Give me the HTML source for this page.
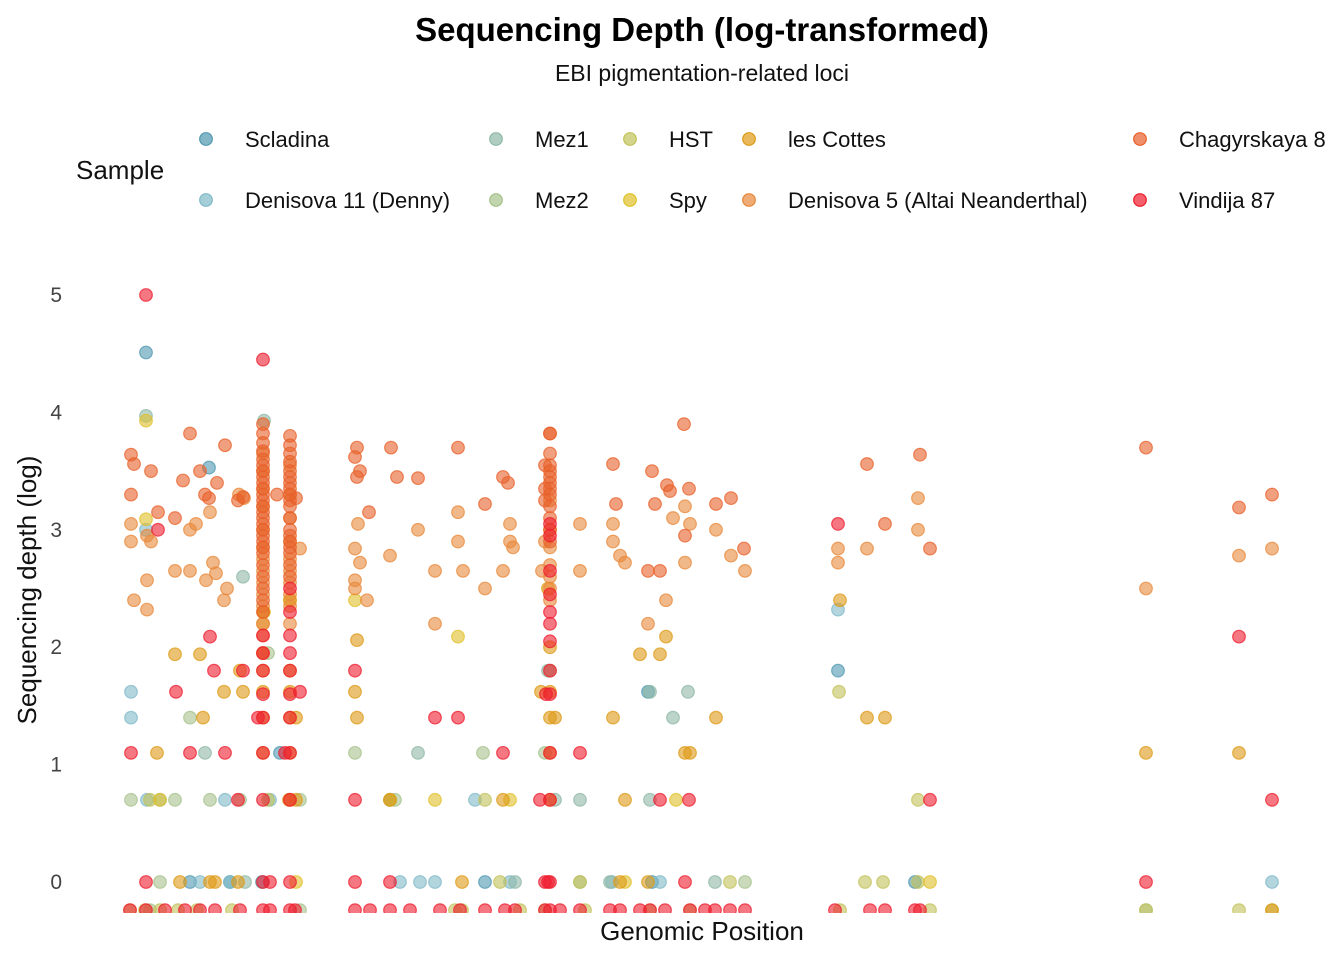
<!DOCTYPE html>
<html><head><meta charset="utf-8"><style>
html,body{margin:0;padding:0;background:#fff;}
body{width:1344px;height:960px;overflow:hidden;font-family:"Liberation Sans",sans-serif;}
</style></head><body>
<svg id="chart" width="1344" height="960" xmlns="http://www.w3.org/2000/svg" font-family="Liberation Sans, sans-serif">
<text x="702" y="41" font-size="33" font-weight="bold" text-anchor="middle" fill="#000">Sequencing Depth (log-transformed)</text>
<text x="702" y="81" font-size="23" text-anchor="middle" fill="#111">EBI pigmentation-related loci</text>
<text x="76" y="179" font-size="26" fill="#111">Sample</text>
<g id="legend"></g>
<text x="702" y="940" font-size="26" text-anchor="middle" fill="#111">Genomic Position</text>
<text transform="translate(36,590) rotate(-90)" font-size="26" text-anchor="middle" fill="#111">Sequencing depth (log)</text>
<g id="yticks"></g>
<defs><clipPath id="plotclip"><rect x="100" y="250" width="1244" height="663"/></clipPath></defs>
<g id="points" clip-path="url(#plotclip)"></g>
</svg>
<script>
const yTicks=[0,1,2,3,4,5];
const sampleNames=["Scladina","Denisova 11 (Denny)","Mez1","Mez2","HST","Spy","les Cottes","Denisova 5 (Altai Neanderthal)","Chagyrskaya 8","Vindija 87"];
const sampleColors=["#4f98b0","#7fb9c8","#8fb8a6","#a6c28c","#c2c25a","#e0c02a","#de9a16","#e8883a","#e8602a","#ee1c2e"];
const scladina=[[146,4.51],[209,3.53],[838,1.8],[648,1.62],[485,0],[280,1.1],[915,0],[390,0.7],[190,0],[230,0],[262,0],[652,0]];
const denisova11=[[131,1.62],[131,1.4],[146,3.0],[838,2.32],[1272,0],[400,0],[420,0],[435,0],[510,0],[660,0],[200,0],[230,0],[270,0.7],[147,0.7],[225,0.7],[475,0.7],[612,0]];
const mez1=[[264,3.93],[146,3.97],[243,2.6],[650,1.62],[688,1.62],[673,1.4],[418,1.1],[205,1.1],[580,0.7],[650,0.7],[715,0],[610,0],[245,0],[515,0],[555,0.7],[548,1.8],[160,0.7]];
const mez2=[[131,0.7],[175,0.7],[160,0],[210,0.7],[300,0.7],[545,1.1],[550,1.8],[355,1.1],[395,0.7],[483,1.1],[190,1.4],[745,0],[1146,-0.24],[268,1.95],[580,0],[150,-0.24],[300,-0.24],[240,0.7]];
const hst=[[150,0.7],[268,0.7],[580,0],[730,0],[883,0],[865,0],[1146,-0.24],[1239,-0.24],[485,0.7],[500,0],[918,0],[839,1.62],[918,0.7],[130,-0.24],[462,-0.24],[145,-0.24],[178,-0.24],[232,-0.24],[455,-0.24],[520,-0.24],[545,-0.24],[585,-0.24],[650,-0.24],[690,-0.24],[840,-0.24],[930,-0.24],[1272,-0.24],[160,-0.24],[197,-0.24]];
const spy=[[146,3.93],[146,3.09],[435,0.7],[458,2.09],[676,0.7],[625,0],[930,0],[296,0],[160,0.7],[355,2.4],[390,0.7],[510,0.7],[264,2.3],[290,2.4]];
const lesCottes=[[175,1.94],[200,1.94],[224,1.62],[243,1.62],[240,1.8],[296,1.4],[357,1.4],[390,0.7],[462,0],[503,0.7],[541,1.62],[555,1.4],[613,1.4],[625,0.7],[648,0],[640,1.94],[666,2.09],[660,1.94],[685,1.1],[690,1.1],[716,1.4],[840,2.4],[867,1.4],[885,1.4],[1146,1.1],[1239,1.1],[157,1.1],[203,1.4],[180,0],[210,0],[238,0],[289,0.7],[296,0.7],[357,2.06],[355,1.62],[263,2.3],[263,2.2],[263,1.95],[263,1.8],[263,1.62],[263,1.4],[263,1.1],[290,2.4],[290,1.8],[290,1.62],[290,1.4],[290,1.1],[290,0.7],[550,2.0],[550,1.62],[550,1.4],[550,1.1],[550,0.7],[548,2.5],[215,0],[620,0],[1272,-0.24]];
const denisova5=[[131,3.05],[131,2.9],[134,2.4],[147,2.32],[147,2.57],[147,2.95],[151,2.9],[175,2.65],[190,3.0],[190,2.65],[196,3.05],[206,2.57],[213,2.72],[216,2.63],[224,2.4],[227,2.5],[239,3.3],[210,3.15],[244,3.27],[390,2.78],[418,3.0],[435,2.65],[435,2.2],[458,3.15],[458,2.9],[463,2.65],[485,2.5],[503,2.65],[510,3.05],[510,2.9],[513,2.85],[580,3.05],[580,2.65],[613,3.05],[613,2.9],[620,2.78],[625,2.72],[648,2.2],[666,2.4],[673,3.1],[685,3.2],[685,2.72],[690,3.05],[716,3.0],[731,2.78],[745,2.65],[838,2.72],[838,2.84],[867,2.84],[918,3.27],[918,3.0],[1146,2.5],[1239,2.78],[1272,2.84],[355,2.84],[355,2.57],[355,2.5],[358,3.05],[360,2.72],[367,2.4],[300,2.84],
[263,3.65],[263,3.5],[263,3.35],[263,3.2],[263,3.0],[263,2.85],[263,2.75],[263,2.65],[263,2.55],[263,2.45],[263,2.35],[263,2.2],[263,2.1],[263,1.95],
[290,3.55],[290,3.3],[290,3.1],[290,2.9],[290,2.75],[290,2.65],[290,2.55],[290,2.45],[290,2.35],[290,2.2],
[550,3.25],[550,3.0],[550,2.85],[550,2.7],[550,2.6],[550,2.5],[550,2.4],[545,2.9],[542,2.65]];
const chagyrskaya=[[131,3.64],[131,3.3],[134,3.56],[151,3.5],[158,3.15],[190,3.82],[183,3.42],[200,3.5],[205,3.3],[209,3.27],[217,3.4],[225,3.72],[238,3.25],[243,3.28],[277,3.3],[296,3.27],[357,3.7],[355,3.62],[357,3.45],[360,3.5],[369,3.15],[391,3.7],[397,3.45],[418,3.44],[458,3.7],[485,3.22],[503,3.45],[508,3.4],[550,3.82],[545,3.55],[613,3.56],[616,3.22],[652,3.5],[655,3.22],[667,3.38],[670,3.33],[684,3.9],[689,3.35],[716,3.22],[731,3.27],[744,2.84],[685,2.95],[867,3.56],[885,3.05],[920,3.64],[930,2.84],[1146,3.7],[1239,3.19],[1272,3.3],[660,2.65],[648,2.65],[175,3.1],
[263,3.9],[263,3.82],[263,3.74],[263,3.67],[263,3.6],[263,3.55],[263,3.5],[263,3.45],[263,3.4],[263,3.35],[263,3.3],[263,3.25],[263,3.2],[263,3.15],[263,3.1],[263,3.05],[263,3.0],[263,2.95],[263,2.9],[263,2.85],[263,2.8],[263,2.7],[263,2.6],[263,2.5],[263,2.4],[263,2.3],
[290,3.8],[290,3.72],[290,3.65],[290,3.58],[290,3.5],[290,3.45],[290,3.4],[290,3.35],[290,3.3],[290,3.25],[290,3.2],[290,3.1],[290,3.0],[290,2.95],[290,2.9],[290,2.85],[290,2.8],[290,2.7],[290,2.6],
[550,3.82],[550,3.65],[550,3.55],[550,3.5],[550,3.45],[550,3.4],[550,3.35],[550,3.3],[550,3.2],[550,3.1],[550,3.0],[550,2.9],[545,3.35],[545,3.25]];
const vindija=[[146,5.0],[263,4.45],[158,3.0],[210,2.09],[214,1.8],[176,1.62],[131,1.1],[190,1.1],[225,1.1],[238,0.7],[243,1.8],[355,1.8],[435,1.4],[458,1.4],[503,1.1],[580,1.1],[660,0.7],[689,0.7],[838,3.05],[930,0.7],[1146,0],[1239,2.09],[1272,0.7],[146,0],[355,0],[390,0],[548,0],[685,0],[355,0.7],[540,0.7],[300,1.62],
[263,2.1],[263,1.95],[263,1.8],[263,1.6],[263,1.4],[263,1.1],[263,0.7],[263,0],[258,1.4],[270,0],
[290,2.5],[290,2.3],[290,2.1],[290,1.95],[290,1.8],[290,1.6],[290,1.4],[290,1.1],[290,0.7],[290,0],[285,1.1],
[550,3.05],[550,2.95],[550,2.65],[550,2.45],[550,2.3],[550,2.2],[550,2.05],[550,1.8],[550,1.6],[550,1.1],[550,0.7],[550,0],[546,1.6],[545,0],
[130,-0.24],[146,-0.24],[165,-0.24],[185,-0.24],[200,-0.24],[215,-0.24],[240,-0.24],[263,-0.24],[270,-0.24],[290,-0.24],[295,-0.24],[355,-0.24],[370,-0.24],[390,-0.24],[410,-0.24],[440,-0.24],[460,-0.24],[485,-0.24],[505,-0.24],[515,-0.24],[545,-0.24],[550,-0.24],[560,-0.24],[580,-0.24],[610,-0.24],[620,-0.24],[640,-0.24],[650,-0.24],[665,-0.24],[690,-0.24],[705,-0.24],[715,-0.24],[730,-0.24],[745,-0.24],[835,-0.24],[870,-0.24],[885,-0.24],[915,-0.24],[920,-0.24]];
const series=[scladina,denisova11,mez1,mez2,hst,spy,lesCottes,denisova5,chagyrskaya,vindija];

const NS="http://www.w3.org/2000/svg";
function xScale(v){return 125+(v-125)*1.0;}
function yScale(v){return 882-v*117.4;}
const svg=document.getElementById('chart');
const yg=document.getElementById('yticks');
yTicks.forEach(t=>{
  const tx=document.createElementNS(NS,'text');
  
  
  tx.setAttribute('x',62);tx.setAttribute('y',yScale(t)+7);
  tx.setAttribute('font-size','21');tx.setAttribute('text-anchor','end');tx.setAttribute('fill','#444');
  tx.textContent=t;yg.appendChild(tx);
});
const pg=document.getElementById('points');
series.forEach((s,i)=>{
  const g=document.createElementNS(NS,'g');
  
  
  s.forEach(p=>{
    const c=document.createElementNS(NS,'circle');
    
    
    c.setAttribute('cx',xScale(p[0]));c.setAttribute('cy',yScale(p[1]));c.setAttribute('r',6.3);
    c.setAttribute('fill',sampleColors[i]);c.setAttribute('fill-opacity','0.6');
    c.setAttribute('stroke',sampleColors[i]);c.setAttribute('stroke-opacity','0.75');c.setAttribute('stroke-width','1.2');
    g.appendChild(c);
  });
  pg.appendChild(g);
});
const legendPos=[[206,139],[206,200],[496,139],[496,200],[630,139],[630,200],[749,139],[749,200],[1140,139],[1140,200]];
const lg=document.getElementById('legend');
sampleNames.forEach((n,i)=>{
  const g=document.createElementNS(NS,'g');
  
  
  const c=document.createElementNS(NS,'circle');
  
  
  c.setAttribute('cx',legendPos[i][0]);c.setAttribute('cy',legendPos[i][1]);c.setAttribute('r',6.3);
  c.setAttribute('fill',sampleColors[i]);c.setAttribute('fill-opacity','0.7');c.setAttribute('stroke',sampleColors[i]);c.setAttribute('stroke-width','1.2');
  const t=document.createElementNS(NS,'text');
  
  
  t.setAttribute('x',legendPos[i][0]+39);t.setAttribute('y',legendPos[i][1]+8);
  t.setAttribute('font-size','22');t.setAttribute('fill','#111');t.textContent=n;
  g.appendChild(c);g.appendChild(t);lg.appendChild(g);
});
</script>
</body></html>
